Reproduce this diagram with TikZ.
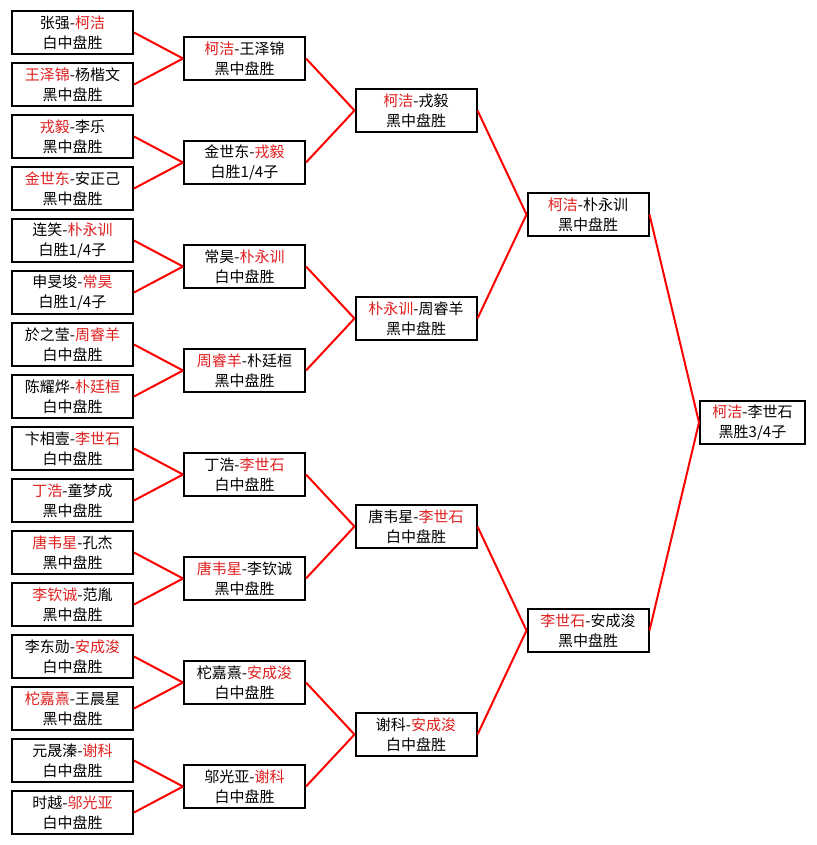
\documentclass[tikz,border=0pt]{standalone}
\usepackage{fontspec}
\setmainfont{Noto Sans CJK SC}
\usepackage{xcolor}
\definecolor{winred}{RGB}{225,30,30}
\newcommand{\winner}[1]{\textcolor{winred}{#1}}
\tikzset{
    game/.style={draw, line width=2pt, align=center, minimum width=121pt, minimum height=43pt, inner sep=0pt, font=\fontsize{15pt}{20pt}\selectfont},
    final/.style={game, minimum width=105pt},
    link/.style={red, line width=2pt}
}

\begin{document}
\begin{tikzpicture}[x=1pt, y=-1pt]
    \useasboundingbox (0,0) rectangle (816,845);
    \path (72.5, 32.5) node [game] (a1) {张强-\winner{柯洁}\\白中盘胜};
    \path (72.5, 84.5) node [game] (a2) {\winner{王泽锦}-杨楷文\\黑中盘胜};
    \path (72.5, 136.5) node [game] (a3) {\winner{戎毅}-李乐\\黑中盘胜};
    \path (72.5, 188.5) node [game] (a4) {\winner{金世东}-安正己\\黑中盘胜};
    \path (72.5, 240.5) node [game] (a5) {连笑-\winner{朴永训}\\白胜1/4子};
    \path (72.5, 292.5) node [game] (a6) {申旻埈-\winner{常昊}\\白胜1/4子};
    \path (72.5, 344.5) node [game] (a7) {於之莹-\winner{周睿羊}\\白中盘胜};
    \path (72.5, 396.5) node [game] (a8) {陈耀烨-\winner{朴廷桓}\\白中盘胜};
    \path (72.5, 448.5) node [game] (a9) {卞相壹-\winner{李世石}\\白中盘胜};
    \path (72.5, 500.5) node [game] (a10) {\winner{丁浩}-童梦成\\黑中盘胜};
    \path (72.5, 552.5) node [game] (a11) {\winner{唐韦星}-孔杰\\黑中盘胜};
    \path (72.5, 604.5) node [game] (a12) {\winner{李钦诚}-范胤\\黑中盘胜};
    \path (72.5, 656.5) node [game] (a13) {李东勋-\winner{安成浚}\\白中盘胜};
    \path (72.5, 708.5) node [game] (a14) {\winner{柁嘉熹}-王晨星\\黑中盘胜};
    \path (72.5, 760.5) node [game] (a15) {元晟溱-\winner{谢科}\\白中盘胜};
    \path (72.5, 812.5) node [game] (a16) {时越-\winner{邬光亚}\\白中盘胜};

    \path (244.5, 58.5) node [game] (b1) {\winner{柯洁}-王泽锦\\黑中盘胜};
    \path (244.5, 162.5) node [game] (b2) {金世东-\winner{戎毅}\\白胜1/4子};
    \path (244.5, 266.5) node [game] (b3) {常昊-\winner{朴永训}\\白中盘胜};
    \path (244.5, 370.5) node [game] (b4) {\winner{周睿羊}-朴廷桓\\黑中盘胜};
    \path (244.5, 474.5) node [game] (b5) {丁浩-\winner{李世石}\\白中盘胜};
    \path (244.5, 578.5) node [game] (b6) {\winner{唐韦星}-李钦诚\\黑中盘胜};
    \path (244.5, 682.5) node [game] (b7) {柁嘉熹-\winner{安成浚}\\白中盘胜};
    \path (244.5, 786.5) node [game] (b8) {邬光亚-\winner{谢科}\\白中盘胜};

    \path (416, 110.5) node [game] (c1) {\winner{柯洁}-戎毅\\黑中盘胜};
    \path (416, 318.5) node [game] (c2) {\winner{朴永训}-周睿羊\\黑中盘胜};
    \path (416, 526.5) node [game] (c3) {唐韦星-\winner{李世石}\\白中盘胜};
    \path (416, 734.5) node [game] (c4) {谢科-\winner{安成浚}\\白中盘胜};

    \path (588, 214.5) node [game] (d1) {\winner{柯洁}-朴永训\\黑中盘胜};
    \path (588, 630.5) node [game] (d2) {\winner{李世石}-安成浚\\黑中盘胜};

    \path (752.5, 422.5) node [final] (e1) {\winner{柯洁}-李世石\\黑胜3/4子};

    \draw [link] (a1.east) -- (b1.west);
    \draw [link] (a2.east) -- (b1.west);
    \draw [link] (a3.east) -- (b2.west);
    \draw [link] (a4.east) -- (b2.west);
    \draw [link] (a5.east) -- (b3.west);
    \draw [link] (a6.east) -- (b3.west);
    \draw [link] (a7.east) -- (b4.west);
    \draw [link] (a8.east) -- (b4.west);
    \draw [link] (a9.east) -- (b5.west);
    \draw [link] (a10.east) -- (b5.west);
    \draw [link] (a11.east) -- (b6.west);
    \draw [link] (a12.east) -- (b6.west);
    \draw [link] (a13.east) -- (b7.west);
    \draw [link] (a14.east) -- (b7.west);
    \draw [link] (a15.east) -- (b8.west);
    \draw [link] (a16.east) -- (b8.west);

    \draw [link] (b1.east) -- (c1.west);
    \draw [link] (b2.east) -- (c1.west);
    \draw [link] (b3.east) -- (c2.west);
    \draw [link] (b4.east) -- (c2.west);
    \draw [link] (b5.east) -- (c3.west);
    \draw [link] (b6.east) -- (c3.west);
    \draw [link] (b7.east) -- (c4.west);
    \draw [link] (b8.east) -- (c4.west);

    \draw [link] (c1.east) -- (d1.west);
    \draw [link] (c2.east) -- (d1.west);
    \draw [link] (c3.east) -- (d2.west);
    \draw [link] (c4.east) -- (d2.west);

    \draw [link] (d1.east) -- (e1.west);
    \draw [link] (d2.east) -- (e1.west);
\end{tikzpicture}
\end{document}
